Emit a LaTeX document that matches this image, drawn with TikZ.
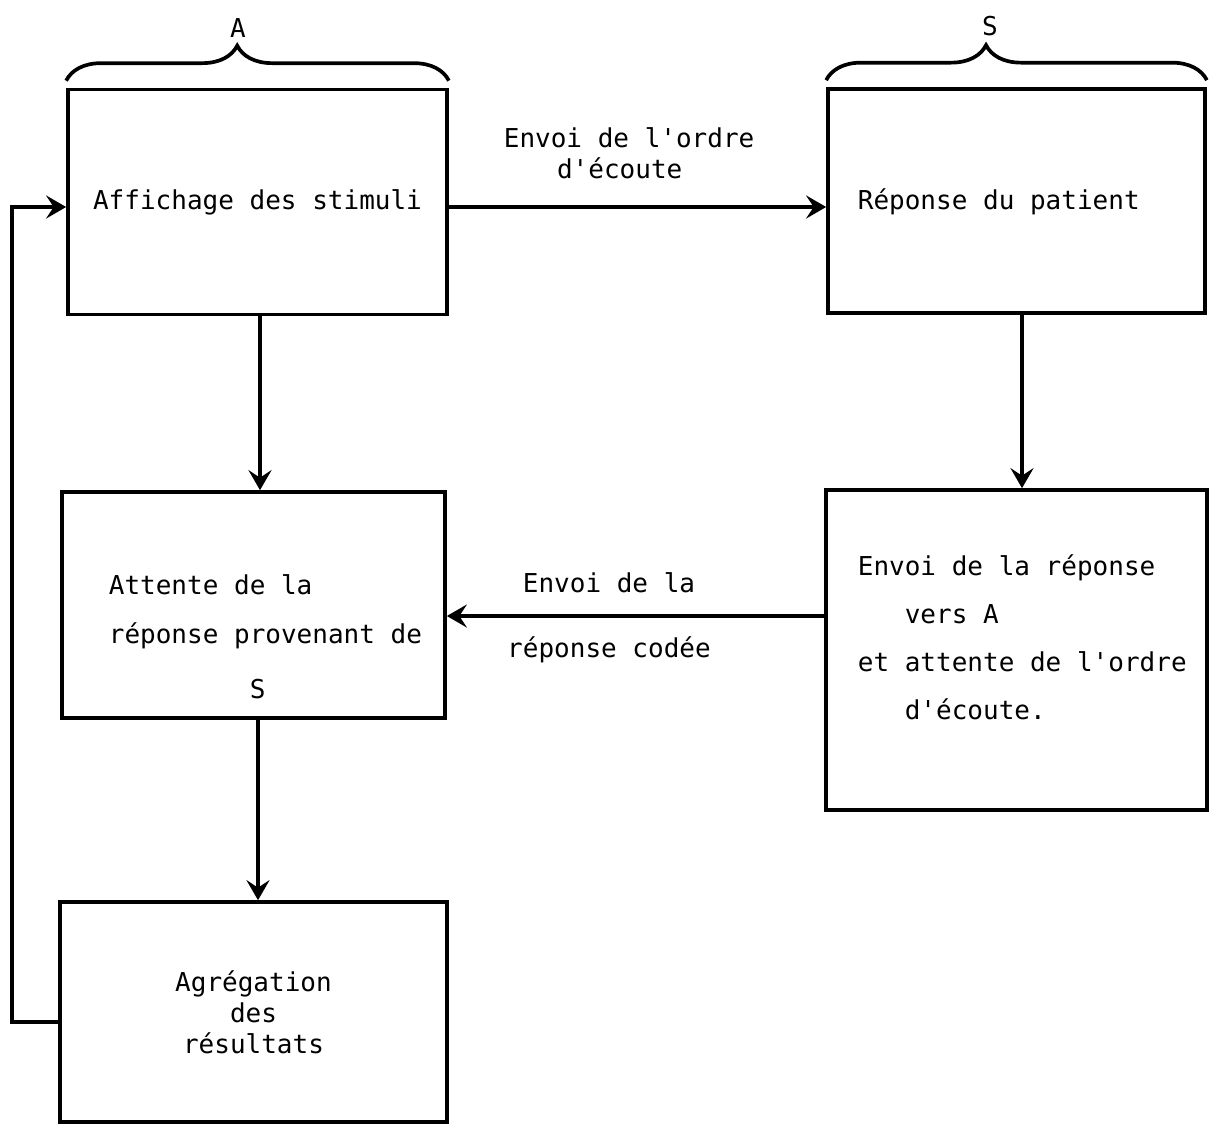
\documentclass[tikz,border=0pt]{standalone}
\usepackage{fontspec}
\setmonofont{DejaVu Sans Mono}
\usetikzlibrary{arrows.meta,decorations.pathreplacing}
\newcommand{\police}[1]{\ttfamily\fontsize{14.8}{#1}\selectfont}
\newcommand{\decal}[1]{\hspace*{\dimexpr #1em*602/1000\relax}}
\begin{document}
\begin{tikzpicture}[
x=0.2mm, y=-0.2mm, line width=2.1pt,
>={Stealth[length=4mm,width=4.6mm,inset=1.5mm]},
boite/.style = {draw, rectangle, inner sep=0pt},
texte/.style = {inner sep=0pt, align=left},
accolade/.style = {decorate, decoration={brace, amplitude=7mm, aspect=#1}}]
\tikzstyle{every node}=[font=\police{17.6}]
\useasboundingbox (0,0) rectangle (1213,1124);
\node[boite, minimum width=75.8mm, minimum height=45mm] (affichage) at (257.5,202) {Affichage des stimuli};
\node[boite, minimum width=75.4mm, minimum height=44.8mm] (patient) at (1016.5,201) {};
\node[boite, minimum width=76.6mm, minimum height=45.2mm] (attente) at (253.5,605) {};
\node[boite, minimum width=76.2mm, minimum height=64mm] (envoi) at (1016.5,650) {};
\node[boite, minimum width=77.4mm, minimum height=44mm, align=center] (agregation) at (253.5,1012) {Agrégation\\des\\résultats};
\node[texte, anchor=north west] (tpatient) at (856,187) {Réponse du patient};
\node[texte, anchor=north west, font=\police{28}] (tattente) at (107,573) {Attente de la\\réponse provenant de\\[1mm]\decal{9}S};
\node[texte, anchor=north west, font=\police{27.3}] (tenvoi) at (856,553) {Envoi de la réponse\\\decal{3}vers A\\et attente de l'ordre\\\decal{3}d'écoute.};
\node[texte, anchor=north west] (lordre) at (502,126) {Envoi de l'ordre\\\decal{3.4}d'écoute};
\node[texte, anchor=north, align=center, font=\police{37}] (lcodee) at (609,571) {Envoi de la\\réponse codée};
\draw[accolade=0.447] ([yshift=1.4mm]affichage.north west) -- ([yshift=1.4mm]affichage.north east);
\node (lA) at (238,28) {A};
\draw[accolade=0.42] ([yshift=1.4mm]patient.north west) -- ([yshift=1.4mm]patient.north east);
\node (lS) at (990,26) {S};
\draw[->] (affichage.east |- 0,207) -- (patient.west |- 0,207);
\draw[->] (affichage.south -| 260,0) -- (attente.north -| 260,0);
\draw[->] (patient.south -| 1022,0) -- (envoi.north -| 1022,0);
\draw[->] (envoi.west |- 0,616) -- (attente.east |- 0,616);
\draw[->] (attente.south -| 258,0) -- (agregation.north -| 258,0);
\coordinate (coin1) at (12,1022);
\coordinate (coin2) at (12,207);
\draw[->] (agregation.west |- coin1) -- (coin1) -- (coin2) -- (affichage.west |- coin2);
\end{tikzpicture}
\end{document}
